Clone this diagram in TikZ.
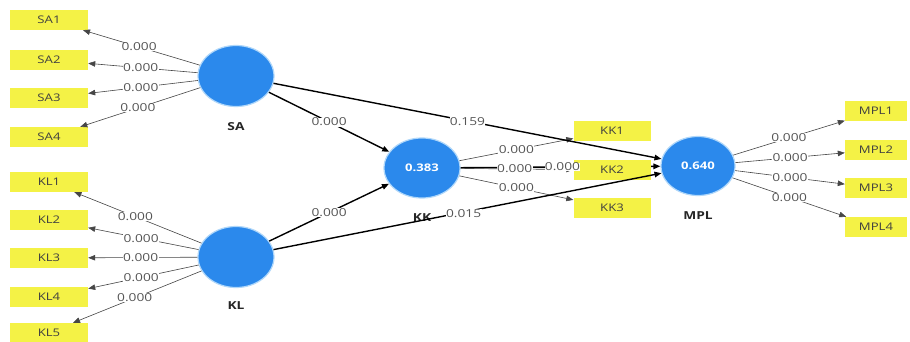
\documentclass[tikz,border=0pt]{standalone}
\usepackage{fontspec}
\setmainfont[FakeStretch=1.25]{Open Sans}
\usetikzlibrary{shapes.geometric,arrows.meta}

\definecolor{lvblue}{RGB}{43,137,236}
\definecolor{lvhalo}{RGB}{175,215,250}
\definecolor{indyellow}{RGB}{244,242,70}
\definecolor{loadgray}{RGB}{70,70,70}
\definecolor{numgray}{RGB}{85,85,85}

\tikzset{
  latent/.style={ellipse, fill=lvblue, draw=lvhalo, line width=1.2pt,
    minimum width=76pt, minimum height=61pt, inner sep=0pt, text=white,
    font=\fontsize{10.5}{11}\selectfont\bfseries},
  lvname/.style={font=\fontsize{11}{12}\selectfont\bfseries, text=black!85},
  indicator/.style={rectangle, fill=indyellow, minimum height=20pt,
    inner sep=0pt, font=\fontsize{10.5}{11}\selectfont, text=black!75},
  leftind/.style={indicator, minimum width=78pt},
  kkind/.style={indicator, minimum width=77pt},
  mplind/.style={indicator, minimum width=62pt},
  tip/.style={-{Triangle[length=7pt,width=5.5pt]}},
  loading/.style={tip, draw=loadgray, line width=0.6pt},
  path/.style={tip, draw=black, line width=1.4pt},
  coef/.style={fill=white, inner sep=0.4pt, text=numgray,
    font=\fontsize{11}{12}\selectfont},
}

\begin{document}
\begin{tikzpicture}[x=1pt, y=-1pt]
  \useasboundingbox (0,0) rectangle (910,342);
  \fill[white] (0,0) rectangle (910,342);

  % latent variables
  \node[latent] (SA)  at (236,76)  {};
  \node[latent] (KL)  at (236,257) {};
  \node[latent, minimum width=76pt, minimum height=60pt] (KK)  at (422,168) {0.383};
  \node[latent, minimum width=74pt, minimum height=59pt] (MPL) at (698,166) {0.640};

  % latent variable names
  \node[lvname] (SAname)  at (236,127) {SA};
  \node[lvname] (KLname)  at (236,306) {KL};
  \node[lvname] (KKname)  at (422,218) {KK};
  \node[lvname] (MPLname) at (698,216) {MPL};

  % structural path passing behind the KK2 box
  \draw[path] (KK) -- (MPL);

  % indicator boxes
  \node[leftind] (SA1) at (49,20)  {SA1};
  \node[leftind] (SA2) at (49,60)  {SA2};
  \node[leftind] (SA3) at (49,98)  {SA3};
  \node[leftind] (SA4) at (49,137) {SA4};

  \node[leftind] (KL1) at (49,182) {KL1};
  \node[leftind] (KL2) at (49,220) {KL2};
  \node[leftind] (KL3) at (49,258) {KL3};
  \node[leftind] (KL4) at (49,297) {KL4};
  \node[leftind, minimum height=19pt] (KL5) at (49,332.5) {KL5};

  \node[kkind] (KK1) at (612,131) {KK1};
  \node[kkind] (KK2) at (612,170) {KK2};
  \node[kkind] (KK3) at (612,208) {KK3};

  \node[mplind] (MPL1) at (876,111) {MPL1};
  \node[mplind] (MPL2) at (876,150) {MPL2};
  \node[mplind] (MPL3) at (876,188) {MPL3};
  \node[mplind] (MPL4) at (876,227) {MPL4};

  % outer loadings
  \foreach \i in {1,...,4}
    \draw[loading] (SA) -- node[coef, pos=0.52] {0.000} (SA\i);
  \foreach \i in {1,...,5}
    \draw[loading] (KL) -- node[coef, pos=0.52] {0.000} (KL\i);
  \draw[loading] (KK) -- node[coef, pos=0.5] {0.000} (KK1);
  \draw[loading] (KK) -- node[coef, pos=0.48] {0.000} (KK2);
  \draw[loading] (KK) -- node[coef, pos=0.5] {0.000} (KK3);
  \foreach \i in {1,...,4}
    \draw[loading] (MPL) -- node[coef, pos=0.5] {0.000} (MPL\i);

  % structural paths
  \path (KK) -- node[coef, pos=0.51] {0.000} (MPL);
  \draw[path] (SA) -- node[coef] {0.000} (KK);
  \draw[path] (KL) -- node[coef] {0.000} (KK);
  \draw[path] (SA) -- node[coef] {0.159} (MPL);
  \draw[path] (KL) -- node[coef, pos=0.49, yshift=-1pt] {0.015} (MPL);
\end{tikzpicture}
\end{document}
